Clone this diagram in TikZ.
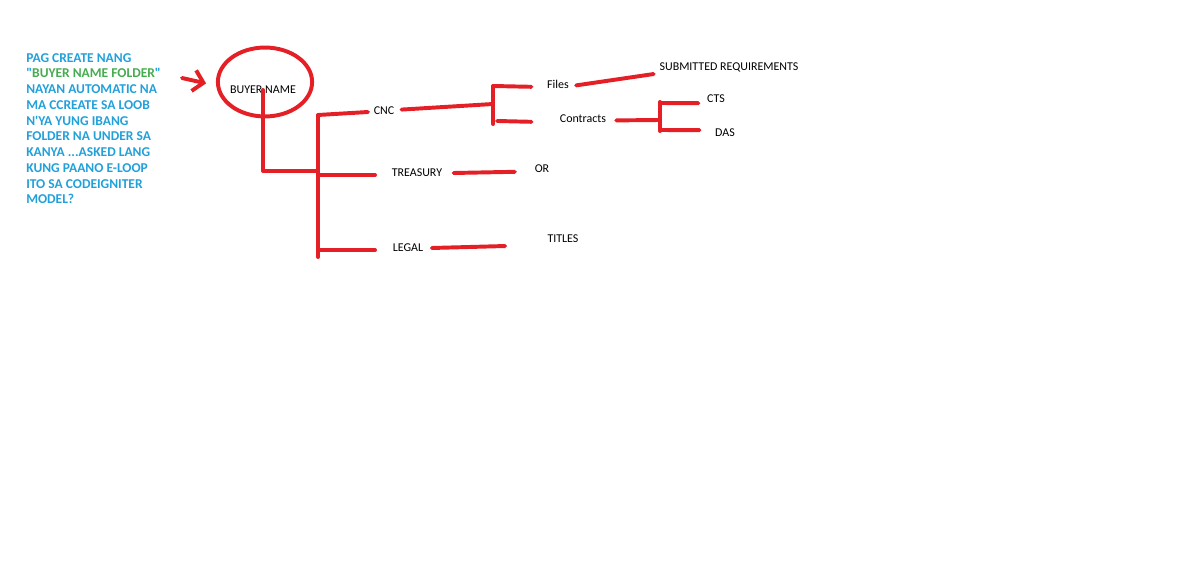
\documentclass[tikz,border=0pt]{standalone}
\usepackage{fontspec}
\setmainfont{Carlito}
\usepackage{xcolor}
\usepackage{tikz}
\usetikzlibrary{arrows.meta,calc,positioning,shapes.geometric}
\definecolor{pen}{RGB}{228,32,38}
\definecolor{note}{RGB}{34,160,218}
\definecolor{leaf}{RGB}{70,172,80}

\begin{document}
\begin{tikzpicture}[x=0.025cm,y=-0.025cm,
    wire/.style={pen,line width=2.8pt,line cap=round,line join=round},
    lbl/.style={font=\fontsize{8.5}{10}\selectfont,inner sep=0pt}]
  \useasboundingbox (0,0) rectangle (1200,582);
  % question text on the left
  \node[anchor=north west,align=left,inner sep=0pt,note,font=\bfseries\fontsize{9.6}{11.2}\selectfont] (ask) at (26,53)
    {PAG CREATE NANG\\ \textquotedbl\textcolor{leaf}{BUYER NAME FOLDER}\textquotedbl\\ NAYAN AUTOMATIC NA\\ MA CCREATE SA LOOB\\ N\textquotesingle YA YUNG IBANG\\ FOLDER NA UNDER SA\\ KANYA ...ASKED LANG\\ KUNG PAANO E-LOOP\\ ITO SA CODEIGNITER\\ MODEL?};
  % root folder
  \node[ellipse,draw=pen,line width=2.8pt,minimum width=67pt,minimum height=49pt,inner sep=0pt] (bubble) at (265,82) {};
  \node[lbl] (buyer) at (263,90) {BUYER NAME};
  \coordinate (tail) at (182,78);
  \draw[wire,-{Straight Barb[length=7pt,width=15pt]}] (tail) -- ([xshift=-7pt,yshift=-1pt]bubble.west);
  % sub folders
  \node[lbl] (cnc) at (384,111) {CNC};
  \node[lbl] (treasury) at (417,173) {TREASURY};
  \node[lbl] (legal) at (408,248) {LEGAL};
  \node[lbl] (files) at (558,84) {Files};
  \node[lbl] (contracts) at (583,119) {Contracts};
  \node[lbl] (subreq) at (729,67) {SUBMITTED REQUIREMENTS};
  \node[lbl] (cts) at (716,99) {CTS};
  \node[lbl] (das) at (725,133) {DAS};
  \node[lbl] (or) at (542,169) {OR};
  \node[lbl] (titles) at (563,239) {TITLES};
  % junctions
  \coordinate (elbow) at (263,171);
  \coordinate (trunktop) at (318,115);
  \coordinate (trunkbot) at (318,257);
  \coordinate (cncjoin) at (493,104);
  \coordinate (ctrjoin) at (660,120);
  % trunk
  \draw[wire] (buyer.center) -- (elbow) -- (318,171);
  \draw[wire] (trunktop) -- (trunkbot);
  \draw[wire] (trunktop) -- (368,112);
  \draw[wire] (318,175) -- (375,175);
  \draw[wire] (318,250) -- (375,250);
  % cnc
  \draw[wire] ([xshift=5pt,yshift=1pt]cnc.east) -- (cncjoin);
  \draw[wire] (493,86) -- (493,124);
  \draw[wire] (493,86) -- ([xshift=-11pt,yshift=-2pt]files.west);
  \draw[wire] (497,121) -- ([xshift=-20pt,yshift=-2pt]contracts.west);
  \draw[wire] ([xshift=5pt,yshift=-1pt]files.east) -- ([xshift=-4pt,yshift=-5pt]subreq.west);
  % contracts
  \draw[wire] ([xshift=7pt,yshift=-1pt]contracts.east) -- (ctrjoin);
  \draw[wire] (660,102) -- (660,131);
  \draw[wire] (660,103) -- ([xshift=-6pt,yshift=-3pt]cts.west);
  \draw[wire] (660,130) -- ([xshift=-11pt,yshift=2pt]das.west);
  % treasury and legal
  \draw[wire] ([xshift=8pt]treasury.east) -- ([xshift=-14pt,yshift=-2pt]or.west);
  \draw[wire] ([xshift=6pt]legal.east) -- ([xshift=-30pt,yshift=-5pt]titles.west);
\end{tikzpicture}
\end{document}
